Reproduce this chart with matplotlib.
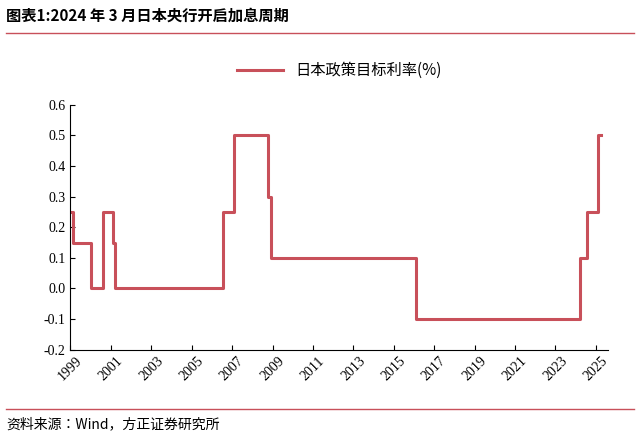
import matplotlib.pyplot as plt
from matplotlib import font_manager
import numpy as np

cjk = [f.name for f in font_manager.fontManager.ttflist if "CJK" in f.name]
plt.rcParams["font.family"] = sorted(set(cjk), key=lambda n: ("SC" not in n, n)) + ["DejaVu Sans"]

# policy rate change points (decimal year, rate %)
dates = [1999.0, 1999.12, 2000.0, 2000.6, 2001.12, 2001.2, 2006.55, 2007.1,
         2008.8, 2008.95, 2016.1, 2024.2, 2024.55, 2025.1, 2025.25]
rates = [0.25, 0.15, 0.0, 0.25, 0.15, 0.0, 0.25, 0.5,
         0.3, 0.1, -0.1, 0.1, 0.25, 0.5, 0.5]
xticks = list(range(1999, 2026, 2))
yticks = [-0.2, -0.1, 0.0, 0.1, 0.2, 0.3, 0.4, 0.5, 0.6]

fig = plt.figure(figsize=(6.4, 4.37), dpi=100)
ax = fig.add_axes([0.11, 0.2, 0.84, 0.56])
ax.step(dates, rates, where="post", color="#C8505A", lw=2.2, label="日本政策目标利率(%)")
ax.set_xlim(1999, 2025.6)
ax.set_ylim(-0.2, 0.6)
ax.set_yticks(yticks)
ax.set_yticklabels([f"{v:.1f}" for v in yticks], fontsize=10, fontfamily="Liberation Serif")
ax.set_xticks(xticks)
ax.set_xticklabels([str(x) for x in xticks], rotation=45, fontsize=10, fontfamily="Liberation Serif")
for s in ["top", "right"]:
    ax.spines[s].set_visible(False)
ax.tick_params(direction="in")
ax.legend(loc="lower center", bbox_to_anchor=(0.5, 1.05), frameon=False, fontsize=11, handlelength=3)

fig.text(0.01, 0.965, "图表1:2024 年 3 月日本央行开启加息周期", fontsize=11, weight="bold", va="center")
fig.add_artist(plt.Line2D([0.01, 0.99], [0.925, 0.925], color="#C8505A", lw=1))
fig.add_artist(plt.Line2D([0.01, 0.99], [0.065, 0.065], color="#C8505A", lw=1))
fig.text(0.01, 0.03, "资料来源：Wind，方正证券研究所", fontsize=10, style="italic", va="center")
fig.savefig("out.png")
